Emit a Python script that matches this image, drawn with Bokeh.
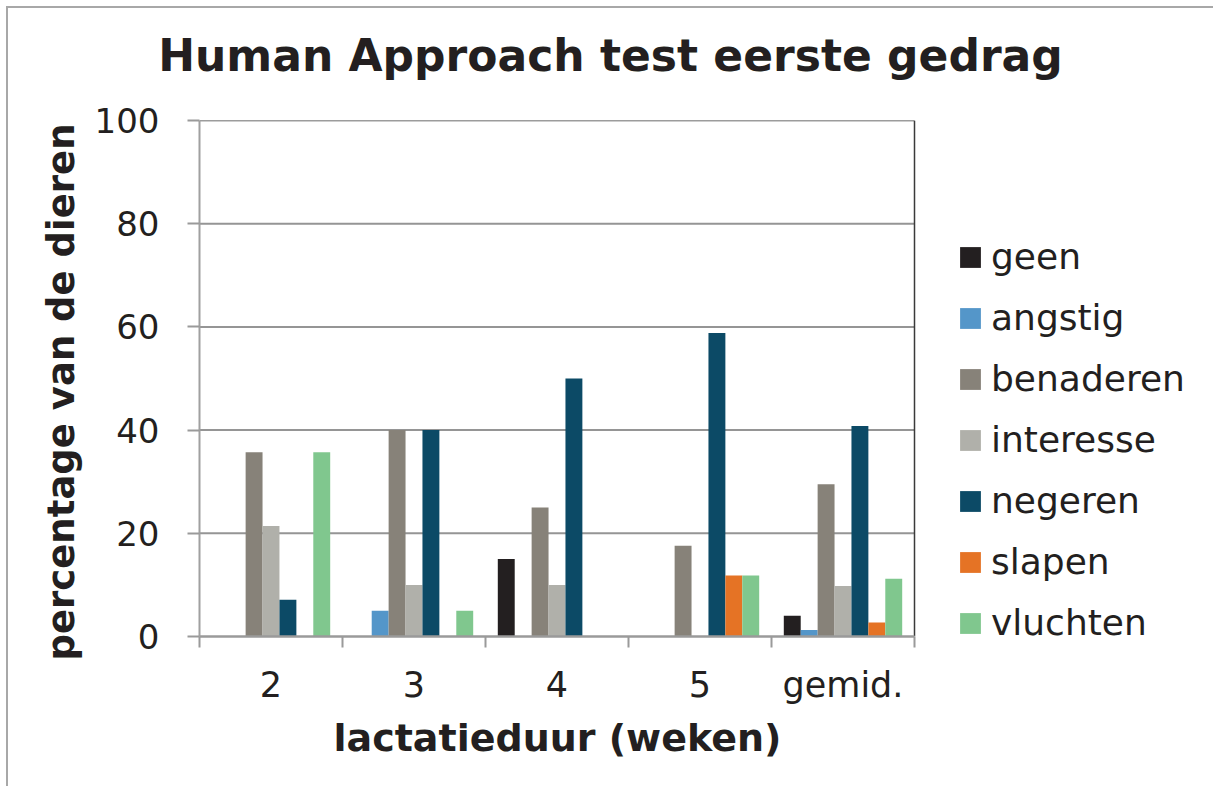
from bokeh.plotting import figure
from bokeh.models import ColumnDataSource, FixedTicker, Legend, LegendItem, Range1d, Title, Div
from bokeh.layouts import column
from bokeh.embed import file_html
from bokeh.resources import INLINE

categories = ["2", "3", "4", "5", "gemid."]
series = ["geen", "angstig", "benaderen", "interesse", "negeren", "slapen", "vluchten"]
geen = [0, 0, 15, 0, 4.0]
angstig = [0, 5, 0, 0, 1.25]
benaderen = [35.7, 40, 25, 17.6, 29.5]
interesse = [21.4, 10, 10, 0, 9.8]
negeren = [7.1, 40, 50, 58.8, 40.8]
slapen = [0, 0, 0, 11.8, 2.7]
vluchten = [35.7, 5, 0, 11.8, 11.2]
values = [geen, angstig, benaderen, interesse, negeren, slapen, vluchten]
colors = ["#231f20", "#5496c9", "#878279", "#b0b0aa", "#0c4a66", "#e57325", "#80c78e"]
y_ticks = [0, 20, 40, 60, 80, 100]
title_text = "Human Approach test eerste gedrag"
x_title = "lactatieduur (weken)"
y_title = "percentage van de dieren"

TEXT = "#231f20"
FONT = "DejaVu Sans"
N = len(categories)
Y_MAX = y_ticks[-1]

W = 1205
DIV_H = 80
H = 698
MB_L, MB_T, MB_B = 191, 32, 150
FRAME_W = W - MB_L          # frame extends under the legend area
PLOT_W = 715                # pixel width of the bar area
x_end = N * FRAME_W / PLOT_W

title_div = Div(
    text=('<div style="position:relative; top:22px; width:%dpx; text-align:center; white-space:nowrap; '
          'font-family:\'DejaVu Sans\'; font-size:44px; font-weight:bold; color:%s; line-height:normal;">%s</div>'
          % (W, TEXT, title_text)),
    width=W, height=DIV_H, margin=0)

p = figure(width=W, height=H, x_range=Range1d(0, x_end), y_range=Range1d(0, Y_MAX),
           output_backend="svg", toolbar_location=None, margin=0,
           min_border_left=MB_L, min_border_right=0, min_border_top=MB_T, min_border_bottom=MB_B)

# grid lines limited to the bar area
grid_y = y_ticks[1:-1]
p.segment(x0=[0] * len(grid_y), y0=grid_y, x1=[N] * len(grid_y), y1=grid_y,
          line_color="#959595", line_width=2)

group = 0.828
bw = group / len(series)
items = []
for i, (name, vals, col) in enumerate(zip(series, values, colors)):
    xs = [k + 0.5 + (i - (len(series) - 1) / 2) * bw for k in range(N)]
    src = ColumnDataSource(dict(x=xs, top=vals))
    r = p.vbar(x="x", top="top", width=bw, bottom=0, source=src, fill_color=col, line_color=None)
    items.append(LegendItem(label=name, renderers=[r]))

# plot-area border (top and right edges)
p.segment(x0=[0, N], y0=[Y_MAX, 0], x1=[N, N], y1=[Y_MAX, Y_MAX], line_color="#3a3a3a", line_width=1.5)

legend = Legend(items=items, location=(758, -7), glyph_width=26, glyph_height=26, label_standoff=8,
                spacing=20, padding=0, margin=0, border_line_color=None, background_fill_alpha=0,
                label_text_font=FONT, label_text_font_size="36px", label_text_color=TEXT)
p.add_layout(legend, "center")

# axes
centers = [k + 0.5 for k in range(N)]
p.xaxis.bounds = (0, N)
p.xaxis.ticker = FixedTicker(ticks=centers, minor_ticks=list(range(N + 1)))
p.xaxis.major_label_overrides = {c: lab for c, lab in zip(centers, categories)}
p.xaxis.major_tick_line_color = None
p.xaxis.minor_tick_out = 11
p.xaxis.minor_tick_in = 0
p.xaxis.minor_tick_line_color = "#9a9a9a"
p.xaxis.minor_tick_line_width = 2
p.xaxis.axis_line_color = "#9a9a9a"
p.xaxis.axis_line_width = 2.5
p.xaxis.major_label_text_font = FONT
p.xaxis.major_label_text_font_size = "35px"
p.xaxis.major_label_text_color = TEXT
p.xaxis.major_label_standoff = 17

xt = Title(text=x_title, align="left", offset=134, standoff=12, text_font=FONT,
           text_font_size="38px", text_font_style="bold", text_color=TEXT)
p.add_layout(xt, "below")

p.yaxis.bounds = (0, Y_MAX)
p.yaxis.ticker = FixedTicker(ticks=y_ticks, minor_ticks=[])
p.yaxis.major_tick_out = 12
p.yaxis.major_tick_in = 0
p.yaxis.major_tick_line_color = "#9a9a9a"
p.yaxis.major_tick_line_width = 2
p.yaxis.axis_line_color = "#a0a0a0"
p.yaxis.axis_line_width = 2
p.yaxis.major_label_text_font = FONT
p.yaxis.major_label_text_font_size = "34px"
p.yaxis.major_label_text_color = TEXT
p.yaxis.major_label_standoff = 28

yt = Title(text=y_title, align="left", offset=-24, standoff=17, text_font=FONT,
           text_font_size="37px", text_font_style="bold", text_color=TEXT)
p.add_layout(yt, "left")

p.xgrid.grid_line_color = None
p.ygrid.grid_line_color = None
p.outline_line_color = None
p.background_fill_color = "white"
p.border_fill_color = "white"

layout = column(title_div, p, spacing=0,
                styles={"margin-left": "6px", "margin-top": "6px",
                        "border-left": "2px solid #a8a8a8", "border-top": "2px solid #a8a8a8"})

open("out.html", "w").write(file_html(layout, INLINE))
